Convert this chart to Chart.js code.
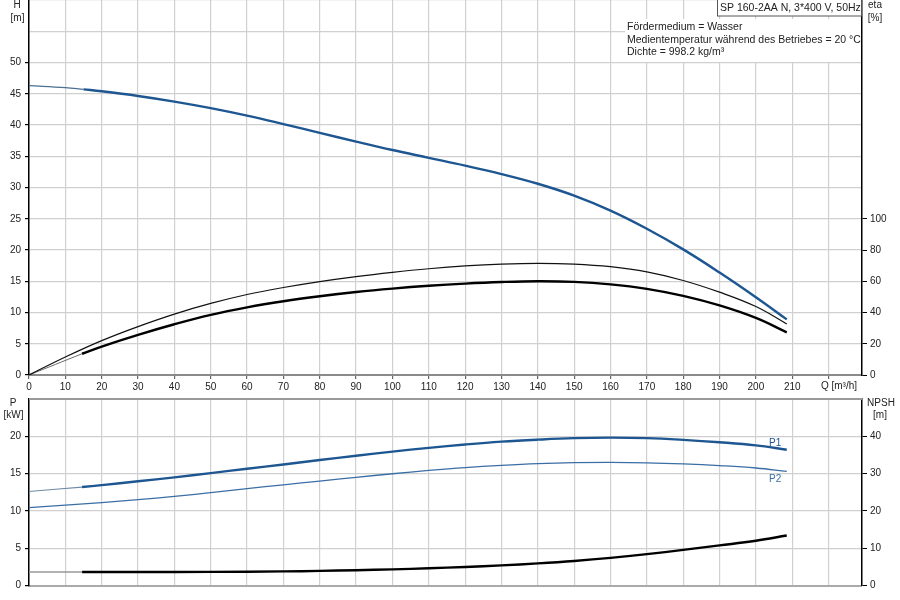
<!DOCTYPE html>
<html><head><meta charset="utf-8">
<script src="https://cdn.jsdelivr.net/npm/chart.js@4.4.1/dist/chart.umd.min.js"></script>
<style>
html,body{margin:0;padding:0;background:#fff;width:900px;height:600px;overflow:hidden}
#top{position:absolute;left:0;top:0;width:900px;height:400px}
#bot{position:absolute;left:0;top:395px;width:900px;height:205px}
</style></head><body>
<div id="top"><canvas id="c1"></canvas></div>
<div id="bot"><canvas id="c2"></canvas></div>
<script>
// ---------- data ----------
const qMax = 229.2;
const qLabelMax = 210;
const titleText = 'SP 160-2AA N, 3*400 V, 50Hz';
const infoLines = ['Fördermedium = Wasser', 'Medientemperatur während des Betriebes = 20 °C', 'Dichte = 998.2 kg/m³'];

// Head H [m]
const headExtQ = [0, 10, 15];
const headExtH = [46.3, 45.98, 45.7];
const headQ = [15, 20, 30, 40, 50, 60, 70, 80, 90, 100, 110, 120, 130, 140, 150, 160, 170, 180, 190, 200, 208.5];
const headH = [45.7, 45.4, 44.65, 43.75, 42.7, 41.5, 40.15, 38.75, 37.35, 36.0, 34.75, 33.5, 32.15, 30.6, 28.7, 26.3, 23.4, 20.1, 16.4, 12.45, 8.9];

// Pump efficiency (thin) [%]
const etaPQ = [0, 10, 20, 30, 40, 50, 60, 70, 80, 90, 100, 110, 120, 130, 140, 150, 160, 170, 180, 190, 200, 208.5];
const etaP = [0, 11.5, 22, 31, 39, 45.8, 51.5, 56, 59.8, 63, 65.7, 68, 69.8, 71, 71.5, 71, 69.3, 66, 60.5, 53, 43.8, 32.7];

// Total efficiency (thick) [%]
const etaTExtQ = [0, 14.6];
const etaTExt = [0, 13.6];
const etaTQ = [14.6, 20, 30, 40, 50, 60, 70, 80, 90, 100, 110, 120, 130, 140, 150, 160, 170, 180, 190, 200, 208.5];
const etaT = [13.6, 18.2, 25.7, 32.5, 38.5, 43.3, 47.2, 50.4, 53.1, 55.3, 57.1, 58.5, 59.5, 60, 59.6, 58, 55.1, 50.6, 44.5, 36.5, 27.3];

// P1 [kW]
const p1ExtQ = [0, 14.6];
const p1Ext = [12.6, 13.2];
const p1Q = [14.6, 20, 30, 40, 50, 60, 70, 80, 90, 100, 110, 120, 130, 140, 150, 160, 170, 180, 190, 200, 208.5];
const p1 = [13.2, 13.45, 13.97, 14.5, 15.07, 15.65, 16.22, 16.82, 17.4, 17.95, 18.45, 18.9, 19.28, 19.55, 19.75, 19.82, 19.75, 19.52, 19.2, 18.78, 18.2];

// P2 [kW]
const p2Q = [0, 10, 20, 30, 40, 50, 60, 70, 80, 90, 100, 110, 120, 130, 140, 150, 160, 170, 180, 190, 200, 208.5];
const p2 = [10.45, 10.77, 11.12, 11.5, 11.95, 12.45, 12.98, 13.5, 14.0, 14.5, 14.98, 15.42, 15.8, 16.1, 16.33, 16.46, 16.5, 16.45, 16.3, 16.07, 15.75, 15.3];

// NPSH [m]
const npshExtQ = [0, 14.6];
const npshExt = [3.62, 3.62];
const npshQ = [14.6, 30, 50, 70, 80, 90, 100, 110, 120, 130, 140, 150, 160, 170, 180, 190, 200, 208.5];
const npsh = [3.62, 3.62, 3.65, 3.78, 3.92, 4.1, 4.33, 4.62, 4.97, 5.4, 5.93, 6.58, 7.4, 8.4, 9.55, 10.75, 12.0, 13.4];

// ---------- helpers ----------
const pts = (xs, ys) => xs.map((x, i) => ({x: x, y: ys[i]}));
const FF = '"Liberation Sans", Arial, sans-serif';
const FONT = {family: FF, size: 10};
const TXT = '#222';
const GRID = '#d0d0d0';
const BLUE = '#1d5691';
const BLUE2 = '#3a6ea5';
const NONE = 'rgba(0,0,0,0)';

function line(data, color, width, axis) {
  return {data: data, borderColor: color, borderWidth: width, pointRadius: 0, fill: false,
          tension: 0.4, yAxisID: axis || 'y'};
}
function fitW(w) { return s => { s.width = w; s.paddingTop = 0; s.paddingBottom = 0; }; }
function fitH(h) { return s => { s.height = h; s.paddingLeft = 0; s.paddingRight = 0; }; }
const upTo = lim => ctx => (ctx.tick && ctx.tick.value <= lim) ? '#000' : NONE;

// ---------- top chart ----------
const topText = {
  id: 'topText',
  afterDraw(chart) {
    const c = chart.ctx;
    c.save();
    c.fillStyle = '#fff';
    c.fillRect(625, 19, 236, 43);
    c.fillRect(717, 0, 145, 16);
    c.strokeStyle = '#555';
    c.lineWidth = 1;
    c.strokeRect(717.5, -1, 144, 17);
    c.fillStyle = TXT;
    c.font = '10.5px ' + FF;
    c.textBaseline = 'middle';
    c.textAlign = 'left';
    c.fillText(titleText, 720, 8);
    c.fillText(infoLines[0], 627, 27);
    c.fillText(infoLines[1], 627, 40);
    c.fillText(infoLines[2], 627, 52);
    c.font = '10px ' + FF;
    c.textAlign = 'center';
    c.fillText('H', 17, 5);
    c.fillText('[m]', 17.5, 18);
    c.fillText('eta', 875, 5);
    c.fillText('[%]', 875, 18);
    c.fillText('Q [m³/h]', 839, 386);
    c.restore();
  }
};

new Chart(document.getElementById('c1'), {
  type: 'line',
  data: {datasets: [
    line(pts(etaPQ, etaP), '#111', 1.2, 'y2'),
    line(pts(etaTExtQ, etaTExt), '#444', 0.8, 'y2'),
    line(pts(etaTQ, etaT), '#000', 2.4, 'y2'),
    line(pts(headExtQ, headExtH), '#4b6f93', 1.2),
    line(pts(headQ, headH), BLUE, 2.4)
  ]},
  options: {
    responsive: true, maintainAspectRatio: false, animation: false,
    devicePixelRatio: 1,
    layout: {padding: 0},
    plugins: {legend: {display: false}, tooltip: {enabled: false}},
    scales: {
      x: {type: 'linear', min: 0, max: qMax,
        afterBuildTicks: s => { s.ticks = []; for (let v = 0; v <= 220; v += 10) s.ticks.push({value: v}); },
        ticks: {font: FONT, color: TXT, padding: 2, maxRotation: 0, autoSkip: false,
          callback: v => v <= qLabelMax ? String(v) : ''},
        grid: {color: GRID, lineWidth: 1.2, tickLength: 4, tickColor: '#666'},
        border: {color: '#8a8a8a', width: 2},
        afterFit: fitH(25)
      },
      y: {position: 'left', min: 0, max: 60,
        ticks: {stepSize: 5, font: FONT, color: TXT, padding: 4, callback: v => v <= 50 ? String(v) : ''},
        grid: {color: GRID, lineWidth: 1.2, tickLength: 4, tickColor: upTo(50)},
        border: {color: '#000', width: 1.5},
        afterFit: fitW(29)
      },
      y2: {position: 'right', min: 0, max: 240,
        ticks: {stepSize: 20, font: FONT, color: TXT, padding: 3, callback: v => v <= 100 ? String(v) : ''},
        grid: {drawOnChartArea: false, tickLength: 5, color: upTo(100), tickColor: upTo(100)},
        border: {color: '#000', width: 1.5},
        afterFit: fitW(38)
      }
    }
  },
  plugins: [topText]
});

// ---------- bottom chart ----------
const botText = {
  id: 'botText',
  afterDraw(chart) {
    const c = chart.ctx, a = chart.chartArea;
    const xs = chart.scales.x, ys = chart.scales.y;
    c.save();
    c.strokeStyle = '#999';
    c.lineWidth = 2;
    c.beginPath(); c.moveTo(a.left, a.top); c.lineTo(a.right, a.top); c.stroke();
    c.fillStyle = TXT;
    c.font = '10px ' + FF;
    c.textBaseline = 'middle';
    c.textAlign = 'center';
    c.fillText('P', 13, 8);
    c.fillText('[kW]', 13.5, 20);
    c.fillText('NPSH', 881, 8);
    c.fillText('[m]', 880, 20);
    c.fillStyle = BLUE;
    c.fillText('P1', xs.getPixelForValue(205.3), ys.getPixelForValue(19.1));
    c.fillStyle = BLUE2;
    c.fillText('P2', xs.getPixelForValue(205.3), ys.getPixelForValue(14.2));
    c.restore();
  }
};

new Chart(document.getElementById('c2'), {
  type: 'line',
  data: {datasets: [
    line(pts(p2Q, p2), BLUE2, 1.3),
    line(pts(p1ExtQ, p1Ext), '#6f8aa6', 1.2),
    line(pts(p1Q, p1), BLUE, 2.4),
    line(pts(npshExtQ, npshExt), '#999', 1.5, 'y2'),
    line(pts(npshQ, npsh), '#000', 2.4, 'y2')
  ]},
  options: {
    responsive: true, maintainAspectRatio: false, animation: false,
    devicePixelRatio: 1,
    layout: {padding: {top: 4, left: 0, right: 0, bottom: 0}},
    plugins: {legend: {display: false}, tooltip: {enabled: false}},
    scales: {
      x: {type: 'linear', min: 0, max: qMax,
        afterBuildTicks: s => { s.ticks = []; for (let v = 0; v <= 220; v += 10) s.ticks.push({value: v}); },
        ticks: {display: false},
        grid: {color: GRID, lineWidth: 1.2, drawTicks: false},
        border: {color: '#aaa', width: 2},
        afterFit: fitH(14.5)
      },
      y: {position: 'left', min: 0, max: 25,
        ticks: {stepSize: 5, font: FONT, color: TXT, padding: 4, callback: v => v <= 20 ? String(v) : ''},
        grid: {color: GRID, lineWidth: 1.2, tickLength: 4, tickColor: upTo(20)},
        border: {color: '#000', width: 1.5},
        afterFit: fitW(29)
      },
      y2: {position: 'right', min: 0, max: 50,
        ticks: {stepSize: 10, font: FONT, color: TXT, padding: 3, callback: v => v <= 40 ? String(v) : ''},
        grid: {drawOnChartArea: false, tickLength: 5, color: upTo(40), tickColor: upTo(40)},
        border: {color: '#000', width: 1.5},
        afterFit: fitW(38)
      }
    }
  },
  plugins: [botText]
});
</script>
</body></html>
